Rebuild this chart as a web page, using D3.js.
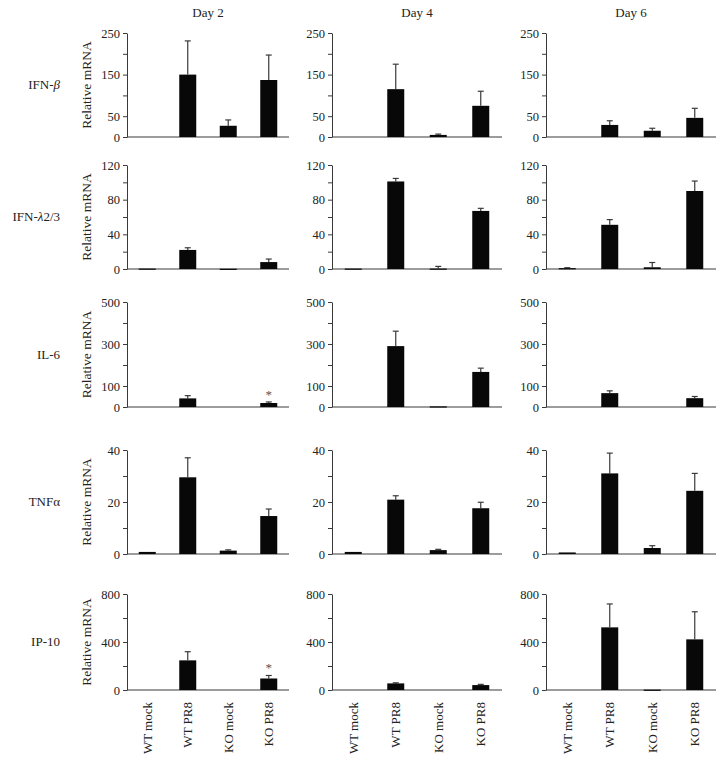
<!DOCTYPE html>
<html><head><meta charset="utf-8">
<script src="https://cdn.jsdelivr.net/npm/d3@7"></script>
<style>
body{margin:0;background:#fff;}
svg{font-family:"Liberation Serif","DejaVu Serif",serif;}
</style></head>
<body><svg id="c" width="725" height="761"></svg>
<script>
// ---------- data ----------
const days = ["Day 2", "Day 4", "Day 6"];
const categories = ["WT mock", "WT PR8", "KO mock", "KO PR8"];
const genes = ["IFN-β", "IFN-λ2/3", "IL-6", "TNFα", "IP-10"];

// means [day][category]
const ifnbMean = [[0, 150, 27, 137], [0, 115, 5, 75], [0, 29, 15, 46]];
const ifnbErr  = [[0, 81, 14, 60], [0, 60, 2, 35], [0, 10, 6, 23]];
const ifnlMean = [[0.5, 22, 0.3, 8], [0.5, 101, 0.5, 67], [1, 51, 2, 90]];
const ifnlErr  = [[0, 2.5, 0, 3.5], [0, 3.5, 2.5, 3], [0.5, 6, 5.5, 11.5]];
const il6Mean  = [[0, 41, 0, 19], [0, 290, 3, 167], [0, 66, 0, 42]];
const il6Err   = [[0, 13, 0, 5], [0, 71, 0, 18], [0, 11, 0, 8]];
const tnfMean  = [[0.8, 29.5, 1.3, 14.6], [0.8, 20.9, 1.5, 17.6], [0.6, 31, 2.3, 24.3]];
const tnfErr   = [[0, 7.5, 0.3, 2.7], [0, 1.5, 0.3, 2.3], [0, 7.8, 0.9, 6.7]];
const ip10Mean = [[0, 247, 0, 96], [0, 55, 0, 41], [0, 522, 3, 422]];
const ip10Err  = [[0, 72, 0, 25], [0, 5, 0, 6], [0, 195, 0, 230]];

// axis settings per gene
const yMax = [250, 120, 500, 40, 800];
const yStep = [50, 20, 100, 10, 200];
const yLabels = [[0, 50, 150, 250], [0, 40, 80, 120], [0, 100, 300, 500], [0, 20, 40], [0, 400, 800]];
// significance marks: [gene, day, category]
const stars = [[2, 0, 3], [4, 0, 3]];

const means = [ifnbMean, ifnlMean, il6Mean, tnfMean, ip10Mean];
const errs = [ifnbErr, ifnlErr, il6Err, tnfErr, ip10Err];

// ---------- layout ----------
const rowTop = [33, 165, 302, 450, 594];
const rowBottom = [137, 269, 407, 554, 690];
const colLeft = [127, 332, 546];
const colWidth = [162, 170, 170];
const axisColor = "#3a3a3a";
const textColor = "#222";

const svg = d3.select("#c");

days.forEach((d, j) => {
  svg.append("text").attr("x", colLeft[j] + colWidth[j] / 2).attr("y", 17)
    .attr("text-anchor", "middle").attr("font-size", 13).attr("fill", textColor).text(d);
});

genes.forEach((g, i) => {
  // row label with italic greek beta/lambda
  const t = svg.append("text").attr("x", 60).attr("y", (rowTop[i] + rowBottom[i]) / 2 + 4)
    .attr("text-anchor", "end").attr("font-size", 13).attr("fill", textColor);
  const m = g.match(/^(.*?)([βλ])(.*)$/);
  if (m) {
    t.append("tspan").text(m[1]);
    t.append("tspan").attr("font-style", "italic").text(m[2]);
    if (m[3]) t.append("tspan").text(m[3]);
  } else t.text(g);

  // Relative mRNA label
  const cy = (rowTop[i] + rowBottom[i]) / 2;
  svg.append("text").attr("transform", `translate(91,${cy}) rotate(-90)`)
    .attr("text-anchor", "middle").attr("font-size", 13.5).attr("fill", textColor).text("Relative mRNA");

  days.forEach((d, j) => {
    const x = d3.scaleBand().domain(categories).range([colLeft[j], colLeft[j] + colWidth[j]]);
    const y = d3.scaleLinear().domain([0, yMax[i]]).range([rowBottom[i], rowTop[i]]);
    const gAx = svg.append("g").attr("transform", `translate(${colLeft[j]},0)`);
    const ax = d3.axisLeft(y).tickValues(d3.range(0, yMax[i] + yStep[i] / 2, yStep[i]))
      .tickFormat(v => yLabels[i].includes(v) ? v : "").tickSize(4).tickSizeOuter(0).tickPadding(3);
    gAx.call(ax);
    gAx.select(".domain").attr("stroke", axisColor);
    gAx.selectAll(".tick line").attr("stroke", axisColor);
    gAx.selectAll(".tick text").attr("font-size", 12.5).attr("fill", textColor)
      .attr("font-family", '"Liberation Serif","DejaVu Serif",serif');
    // x axis baseline
    svg.append("line").attr("x1", colLeft[j]).attr("x2", colLeft[j] + colWidth[j])
      .attr("y1", y(0)).attr("y2", y(0)).attr("stroke", axisColor).attr("stroke-width", 1.2);

    const bw = 17;
    const data = categories.map((c, k) => ({c, k, v: means[i][j][k], e: errs[i][j][k]}));
    // error bars
    data.filter(p => p.e > 0).forEach(p => {
      const cx = x(p.c) + x.bandwidth() / 2;
      svg.append("line").attr("x1", cx).attr("x2", cx).attr("y1", y(p.v)).attr("y2", y(p.v + p.e))
        .attr("stroke", axisColor).attr("stroke-width", 1.2);
      svg.append("line").attr("x1", cx - 3).attr("x2", cx + 3).attr("y1", y(p.v + p.e)).attr("y2", y(p.v + p.e))
        .attr("stroke", axisColor).attr("stroke-width", 1.2);
    });
    // bars
    svg.selectAll(null).data(data.filter(p => p.v > 0)).enter().append("rect")
      .attr("x", p => x(p.c) + x.bandwidth() / 2 - bw / 2)
      .attr("y", p => y(p.v))
      .attr("width", bw)
      .attr("height", p => Math.max(1.2, y(0) - y(p.v)))
      .attr("fill", "#080808");
    // stars
    stars.filter(s => s[0] === i && s[1] === j).forEach(s => {
      const p = data[s[2]];
      svg.append("text").attr("x", x(p.c) + x.bandwidth() / 2).attr("y", y(p.v + p.e) - 3)
        .attr("text-anchor", "middle").attr("font-size", 13).attr("fill", "#555").text("*");
    });
    // category labels on bottom row
    if (i === genes.length - 1) {
      categories.forEach(c => {
        const cx = x(c) + x.bandwidth() / 2;
        svg.append("text").attr("transform", `translate(${cx + 4.5},${rowBottom[i] + 12}) rotate(-90)`)
          .attr("text-anchor", "end").attr("font-size", 13).attr("fill", textColor).text(c);
      });
    }
  });
});
</script></body></html>
